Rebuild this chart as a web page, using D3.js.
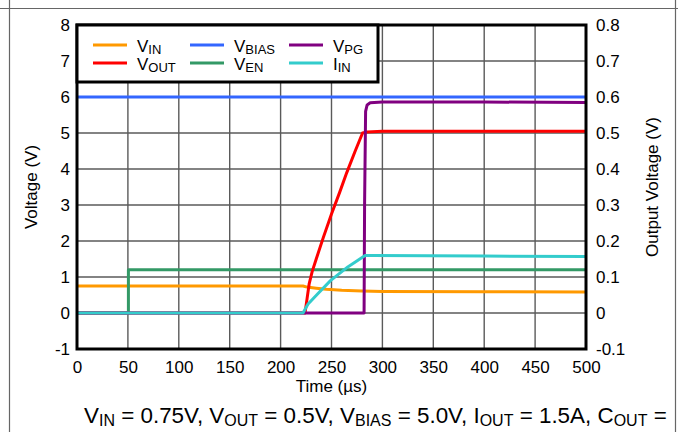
<!DOCTYPE html>
<html>
<head>
<meta charset="utf-8">
<script src="https://cdn.jsdelivr.net/npm/d3@7/dist/d3.min.js"></script>
<style>
  html, body { margin: 0; padding: 0; background: #fff; }
  svg { display: block; font-family: "Liberation Sans", Arial, sans-serif; }
</style>
</head>
<body>
<svg id="chart" width="678" height="432"></svg>
<script>
// Start-up waveforms: time in microseconds
const xTicks = [0, 50, 100, 150, 200, 250, 300, 350, 400, 450, 500];
const yTicksLeft = [-1, 0, 1, 2, 3, 4, 5, 6, 7, 8];
const yTicksRight = [-0.1, 0, 0.1, 0.2, 0.3, 0.4, 0.5, 0.6, 0.7, 0.8];

// V_IN (left axis, V)
const vinTime = [0, 222, 226, 235, 245, 260, 280, 300, 400, 500];
const vinVal  = [0.75, 0.75, 0.72, 0.69, 0.66, 0.63, 0.61, 0.60, 0.59, 0.58];

// V_BIAS (left axis, V)
const vbiasTime = [0, 100, 200, 300, 400, 500];
const vbiasVal  = [6.0, 6.0, 6.0, 6.0, 6.0, 6.0];

// V_EN (left axis, V)
const venTime = [0, 50.5, 50.5, 500];
const venVal  = [0, 0, 1.2, 1.2];

// V_PG (left axis, V)
const vpgTime = [0, 282, 282.5, 283.5, 285, 288, 300, 400, 500];
const vpgVal  = [0, 0, 3.0, 5.6, 5.78, 5.84, 5.86, 5.86, 5.85];

// V_OUT (right axis, V)
const voutTime = [0, 224, 226, 228, 231, 235, 242, 250, 258, 265, 273, 280.5, 285, 300, 400, 500];
const voutVal  = [0, 0, 0.04, 0.08, 0.115, 0.15, 0.21, 0.275, 0.335, 0.39, 0.448, 0.500, 0.503, 0.505, 0.505, 0.505];

// I_IN (left axis scale)
const iinTime = [0, 222, 225, 227, 237, 249, 266, 283, 290, 400, 500];
const iinVal  = [0, 0, 0.15, 0.25, 0.55, 0.90, 1.28, 1.60, 1.60, 1.58, 1.57];

const margin = { left: 77, right: 586, top: 25, bottom: 349 };
const svg = d3.select("#chart");

const x = d3.scaleLinear().domain([0, 500]).range([margin.left, margin.right]);
const yL = d3.scaleLinear().domain([-1, 8]).range([margin.bottom, margin.top]);
const yR = d3.scaleLinear().domain([-0.1, 0.8]).range([margin.bottom, margin.top]);

// Outer page frame
const frame = svg.append("g").attr("stroke", "#666").attr("stroke-width", 1.2);
frame.append("line").attr("x1", 0).attr("x2", 678).attr("y1", 8.5).attr("y2", 8.5);
frame.append("line").attr("x1", 9.5).attr("x2", 9.5).attr("y1", 0).attr("y2", 432);
frame.append("line").attr("x1", 675.5).attr("x2", 675.5).attr("y1", 0).attr("y2", 432);

// Grid
const grid = svg.append("g").attr("stroke", "#5a5a5a").attr("stroke-width", 1.4);
grid.selectAll("line.v").data(xTicks.slice(1, -1)).join("line")
  .attr("x1", d => x(d)).attr("x2", d => x(d))
  .attr("y1", margin.top).attr("y2", margin.bottom);
grid.selectAll("line.h").data(yTicksLeft.slice(1, -1)).join("line")
  .attr("y1", d => yL(d)).attr("y2", d => yL(d))
  .attr("x1", margin.left).attr("x2", margin.right);

// Axes (labels only; the grid carries the ticks)
const fmtL = d => (d < 0 ? "-" : "") + Math.abs(d);
const fmtR = d => d === 0 ? "0" : (d < 0 ? "-" : "") + Math.abs(d).toFixed(1);

const axL = svg.append("g").attr("transform", `translate(${margin.left},0)`)
  .call(d3.axisLeft(yL).tickValues(yTicksLeft).tickSize(0).tickPadding(7).tickFormat(fmtL));
const axR = svg.append("g").attr("transform", `translate(${margin.right},0)`)
  .call(d3.axisRight(yR).tickValues(yTicksRight).tickSize(0).tickPadding(10).tickFormat(fmtR));
const axB = svg.append("g").attr("transform", `translate(0,${margin.bottom})`)
  .call(d3.axisBottom(x).tickValues(xTicks).tickSize(0).tickPadding(12).tickFormat(d => d));
[axL, axR, axB].forEach(a => {
  a.select(".domain").remove();
  a.selectAll("text").attr("font-size", 17).attr("fill", "#000")
    .attr("font-family", "'Liberation Sans', Arial, sans-serif");
});

// Axis titles
svg.append("text").attr("transform", `translate(37,${(margin.top + margin.bottom) / 2}) rotate(-90)`)
  .attr("text-anchor", "middle").attr("font-size", 17).text("Voltage (V)");
svg.append("text").attr("transform", `translate(658,${(margin.top + margin.bottom) / 2}) rotate(-90)`)
  .attr("text-anchor", "middle").attr("font-size", 17).text("Output Voltage (V)");
svg.append("text").attr("x", (margin.left + margin.right) / 2).attr("y", 392)
  .attr("text-anchor", "middle").attr("font-size", 17).text("Time (\u00b5s)");

// Series
const series = [
  { name: ["V", "IN"],   color: "#ff9900", t: vinTime,   v: vinVal,   y: yL },
  { name: ["V", "OUT"],  color: "#ff0000", t: voutTime,  v: voutVal,  y: yR },
  { name: ["V", "BIAS"], color: "#3366ff", t: vbiasTime, v: vbiasVal, y: yL },
  { name: ["V", "EN"],   color: "#339966", t: venTime,   v: venVal,   y: yL },
  { name: ["V", "PG"],   color: "#800080", t: vpgTime,   v: vpgVal,   y: yL },
  { name: ["I", "IN"],   color: "#33cccc", t: iinTime,   v: iinVal,   y: yL }
];
const drawOrder = [0, 2, 3, 1, 4, 5];
drawOrder.forEach(i => {
  const s = series[i];
  const pts = s.t.map((t, k) => [t, s.v[k]]);
  svg.append("path")
    .attr("d", d3.line().x(d => x(d[0])).y(d => s.y(d[1]))(pts))
    .attr("fill", "none").attr("stroke", s.color).attr("stroke-width", 3)
    .attr("stroke-linejoin", "round").attr("stroke-linecap", "butt");
});

// Plot frame
svg.append("rect").attr("x", margin.left).attr("y", margin.top)
  .attr("width", margin.right - margin.left).attr("height", margin.bottom - margin.top)
  .attr("fill", "none").attr("stroke", "#000").attr("stroke-width", 3);

// Legend
const legend = svg.append("g");
legend.append("rect").attr("x", 77).attr("y", 25).attr("width", 301).attr("height", 57)
  .attr("fill", "#fff").attr("stroke", "#000").attr("stroke-width", 3);
const colX = [93, 190, 289];
const rowY = [45, 63];
// legend layout: columns hold (V_IN, V_OUT), (V_BIAS, V_EN), (V_PG, I_IN)
const legendOrder = [[0, 1], [2, 3], [4, 5]];
legendOrder.forEach((col, ci) => {
  col.forEach((si, ri) => {
    const s = series[si];
    legend.append("line")
      .attr("x1", colX[ci]).attr("x2", colX[ci] + 34)
      .attr("y1", rowY[ri]).attr("y2", rowY[ri])
      .attr("stroke", s.color).attr("stroke-width", 3);
    const t = legend.append("text").attr("x", colX[ci] + 44).attr("y", rowY[ri] + 7)
      .attr("font-size", 17);
    t.append("tspan").text(s.name[0]);
    t.append("tspan").attr("font-size", 13).attr("dy", 2).text(s.name[1]);
  });
});

// Conditions line
const cond = [["V", ""], ["IN", "sub"], [" = 0.75V, V", ""], ["OUT", "sub"], [" = 0.5V, V", ""],
  ["BIAS", "sub"], [" = 5.0V, I", ""], ["OUT", "sub"], [" = 1.5A, C", ""], ["OUT", "sub"], [" =", ""]];
const ct = svg.append("text").attr("x", 84).attr("y", 423).attr("font-size", 22.4);
let shifted = false;
cond.forEach(([txt, kind]) => {
  const sp = ct.append("tspan").text(txt);
  if (kind === "sub") { sp.attr("font-size", 16).attr("dy", shifted ? 0 : 3); shifted = true; }
  else { if (shifted) sp.attr("dy", -3); shifted = false; }
});
</script>
</body>
</html>
